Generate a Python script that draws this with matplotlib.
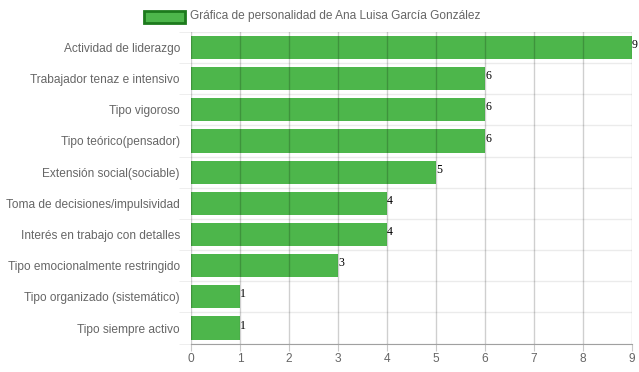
import matplotlib
matplotlib.use("Agg")
import matplotlib.pyplot as plt
from matplotlib.patches import Rectangle

categories = [
    "Actividad de liderazgo",
    "Trabajador tenaz e intensivo",
    "Tipo vigoroso",
    "Tipo teórico(pensador)",
    "Extensión social(sociable)",
    "Toma de decisiones/impulsividad",
    "Interés en trabajo con detalles",
    "Tipo emocionalmente restringido",
    "Tipo organizado (sistemático)",
    "Tipo siempre activo",
]
values = [9, 6, 6, 6, 5, 4, 4, 3, 1, 1]
xticks = list(range(0, 10))
legend_label = "Gráfica de personalidad de Ana Luisa García González"

W, H = 639, 372
fig = plt.figure(figsize=(W / 100, H / 100), dpi=100)
left, right, top, bottom = 191, 632, 31.9, 343.6
ax = fig.add_axes([left / W, 1 - bottom / H, (right - left) / W, (bottom - top) / H])

FS = 8.6
bar_color = "#4DB64B"
n = len(categories)
ypos = list(range(n))
ax.barh(ypos, values, height=0.74, color=bar_color, zorder=2)
ax.set_ylim(n - 0.5, -0.5)
ax.set_xlim(0, 9)

# grid lines
for x in xticks:
    ax.axvline(x, color=(0, 0, 0, 0.19), lw=1, zorder=3)
for i in range(n + 1):
    ax.axhline(i - 0.5, color="#ebebeb", lw=1, zorder=1)

for spine in ["top", "right", "left"]:
    ax.spines[spine].set_visible(False)
ax.spines["bottom"].set_color("#a0a0a0")

ax.set_xticks(xticks)
ax.set_xticklabels([str(x) for x in xticks], fontsize=FS, color="#666666", family="Liberation Sans")
ax.tick_params(axis="x", length=5, color="#c8c8c8", pad=2)
ax.set_yticks(ypos)
ax.set_yticklabels(categories, fontsize=FS, color="#666666", family="Liberation Sans")
ax.tick_params(axis="y", length=0, pad=8)
ax.set_yticks([i - 0.5 for i in range(n + 1)], minor=True)
ax.tick_params(axis="y", which="minor", length=9, color="#ebebeb")

for i, v in enumerate(values):
    ax.text(v, i - 0.08, str(v), fontsize=FS, family="Liberation Serif", color="black",
            ha="left", va="center", zorder=4)

# legend
fig.patches.append(Rectangle((144 / W, 1 - 23 / H), 41 / W, 12 / H, transform=fig.transFigure,
                             facecolor=bar_color, edgecolor="#1C7A1C", lw=2, figure=fig))
fig.text(190 / W, 1 - 15.5 / H, legend_label, fontsize=FS, color="#666666",
         family="Liberation Sans", ha="left", va="center")

fig.savefig("out.png", dpi=100)
